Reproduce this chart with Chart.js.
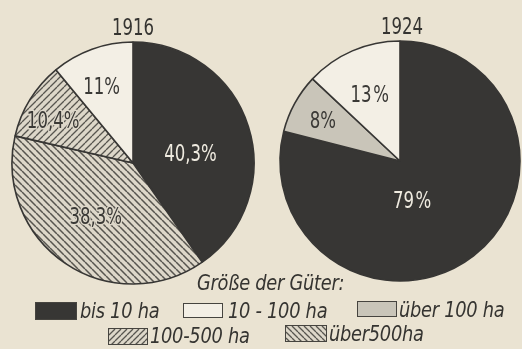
<!DOCTYPE html>
<html lang="de">
<head>
<meta charset="utf-8">
<title>Größe der Güter 1916 und 1924</title>
<script src="https://cdn.jsdelivr.net/npm/chart.js@4.4.1/dist/chart.umd.min.js"></script>
<style>
  html, body { margin: 0; padding: 0; }
  body {
    width: 522px; height: 349px; position: relative; overflow: hidden;
    background: #eae3d2;
    font-family: "DejaVu Sans Condensed", "Liberation Sans", sans-serif;
    color: #353431;
  }
  canvas.pie { position: absolute; }
  .t { position: absolute; white-space: nowrap; line-height: 1; transform-origin: 0 50%; }
  .year { font-size: 23px; transform-origin: 50% 50%; transform: translate(-50%, -50%) scaleX(0.8); }
  .leg { font-size: 22px; font-style: italic; transform: translateY(-50%) scaleX(0.9); letter-spacing: -0.3px; }
  .box { position: absolute; box-sizing: border-box; border: 1.5px solid #46443f; }
</style>
</head>
<body>
<canvas id="pie1916" class="pie" width="250" height="250" style="left:8px;top:38px"></canvas>
<canvas id="pie1924" class="pie" width="250" height="250" style="left:275px;top:36px"></canvas>
<div id="legend"></div>

<script>
// ---- data ----
const years = ['1916', '1924'];
const labels1916 = ['bis 10 ha', 'über 500 ha', '100-500 ha', '10 - 100 ha'];
const values1916 = [40.3, 38.3, 10.4, 11];
const labels1924 = ['bis 10 ha', 'über 100 ha', '10 - 100 ha'];
const values1924 = [79, 8, 13];
const legendTitle = 'Größe der Güter:';
const legendLabels = ['bis 10 ha', '10 - 100 ha', 'über 100 ha', '100-500 ha', 'über500ha'];

// ---- fills ----
const INK = '#373634';
const PAPER_LIGHT = '#f3efe5';
const GREY = '#c9c5b9';
const HATCH_BG = '#ddd7c9';
const HATCH_FG = '#57554f';

function hatchTile(dir, size, lw) {
  const c = document.createElement('canvas');
  c.width = c.height = size;
  const g = c.getContext('2d');
  g.fillStyle = HATCH_BG;
  g.fillRect(0, 0, size, size);
  g.strokeStyle = HATCH_FG;
  g.lineWidth = lw;
  g.beginPath();
  for (let k = -1; k <= 1; k++) {
    if (dir === '/') { g.moveTo(k * size, size); g.lineTo(k * size + size, 0); }
    else { g.moveTo(k * size, 0); g.lineTo(k * size + size, size); }
  }
  g.stroke();
  return c;
}
const patCtx = document.createElement('canvas').getContext('2d');
const patFwd = patCtx.createPattern(hatchTile('/', 7, 1.3), 'repeat');
const patBack = patCtx.createPattern(hatchTile('\\', 7, 1.5), 'repeat');

const fillFor = {
  'bis 10 ha': INK,
  '10 - 100 ha': PAPER_LIGHT,
  'über 100 ha': GREY,
  '100-500 ha': patFwd,
  'über 500 ha': patBack
};

// ---- label placement: radial fraction, angular nudge (deg), suffix per slice ----
const labelPlace1916 = [[0.48, 9.5, '%'], [0.55, 0, '%'], [0.74, -4.8, '%'], [0.67, -3, '%']];
const labelPlace1924 = [[0.36, 21.5, '\u200A%'], [0.72, -2, '%'], [0.6, -1.4, '\u200A%']];

const FONT = '"DejaVu Sans Condensed", "Liberation Sans", sans-serif';

const sliceLabels = {
  id: 'sliceLabels',
  afterDatasetsDraw(chart, args, opts) {
    const ctx = chart.ctx;
    const meta = chart.getDatasetMeta(0);
    const values = chart.data.datasets[0].data;
    const names = chart.data.labels;
    ctx.save();
    ctx.font = '23px ' + FONT;
    ctx.textAlign = 'center';
    ctx.textBaseline = 'middle';
    meta.data.forEach((arc, i) => {
      const p = arc.getProps(['x', 'y', 'startAngle', 'endAngle', 'outerRadius'], true);
      const [frac, nudge, suffix] = opts.place[i];
      const a = (p.startAngle + p.endAngle) / 2 + nudge * Math.PI / 180;
      const r = p.outerRadius * frac;
      const x = p.x + Math.cos(a) * r;
      const y = p.y + Math.sin(a) * r;
      const txt = String(values[i]).replace('.', ',') + suffix;
      const dark = names[i] === 'bis 10 ha';
      const hatched = names[i] === '100-500 ha' || names[i] === 'über 500 ha';
      ctx.save();
      ctx.translate(x, y);
      ctx.scale(0.8, 1);
      if (hatched) {
        ctx.lineWidth = 3;
        ctx.strokeStyle = HATCH_BG;
        ctx.lineJoin = 'round';
        ctx.strokeText(txt, 0, 0);
      }
      ctx.fillStyle = dark ? '#efebe0' : '#3a3936';
      ctx.fillText(txt, 0, 0);
      ctx.restore();
    });
    ctx.restore();
  }
};

function makePie(id, labels, values, radius, place) {
  return new Chart(document.getElementById(id), {
    type: 'pie',
    data: {
      labels: labels,
      datasets: [{
        data: values,
        backgroundColor: labels.map(l => fillFor[l]),
        borderColor: INK,
        borderWidth: 1.6,
        hoverBorderWidth: 1.6,
        hoverOffset: 0
      }]
    },
    options: {
      responsive: false,
      animation: false,
      events: [],
      radius: radius,
      layout: { padding: 0 },
      plugins: {
        legend: { display: false },
        tooltip: { enabled: false },
        title: { display: false },
        sliceLabels: { place: place }
      }
    },
    plugins: [sliceLabels]
  });
}

makePie('pie1916', labels1916, values1916, 121, labelPlace1916);
makePie('pie1924', labels1924, values1924, 120, labelPlace1924);

// ---- titles and legend ----
const legend = document.getElementById('legend');
function addText(txt, cls, left, top) {
  const d = document.createElement('div');
  d.className = 't ' + cls;
  d.textContent = txt;
  d.style.left = left + 'px';
  d.style.top = top + 'px';
  legend.appendChild(d);
}
function addBox(fill, left, top, w, h) {
  const b = document.createElement('div');
  b.className = 'box';
  b.style.left = left + 'px';
  b.style.top = top + 'px';
  b.style.width = w + 'px';
  b.style.height = h + 'px';
  if (typeof fill === 'string') b.style.background = fill;
  else b.style.backgroundImage = 'url(' + fill.toDataURL() + ')';
  legend.appendChild(b);
}

addText(years[0], 'year', 133, 27);
addText(years[1], 'year', 402, 26);

addText(legendTitle, 'leg', 197, 283);

const swatches = {
  'bis 10 ha': INK,
  '10 - 100 ha': PAPER_LIGHT,
  'über 100 ha': GREY,
  '100-500 ha': hatchTile('/', 6, 1.3),
  'über500ha': hatchTile('\\', 6, 1.3)
};
// [box left, box top, box w, box h, text left, text centre y]
const legendSlots = [
  [35, 302, 42, 18, 80, 311],
  [183, 303, 40, 15, 228, 311],
  [357, 301, 40, 16, 399, 310],
  [108, 328, 40, 17, 150, 336],
  [285, 325, 42, 17, 329, 334]
];
legendLabels.forEach((name, i) => {
  const [bx, by, bw, bh, tx, ty] = legendSlots[i];
  addBox(swatches[name], bx, by, bw, bh);
  addText(name, 'leg', tx, ty);
});
</script>
</body>
</html>
